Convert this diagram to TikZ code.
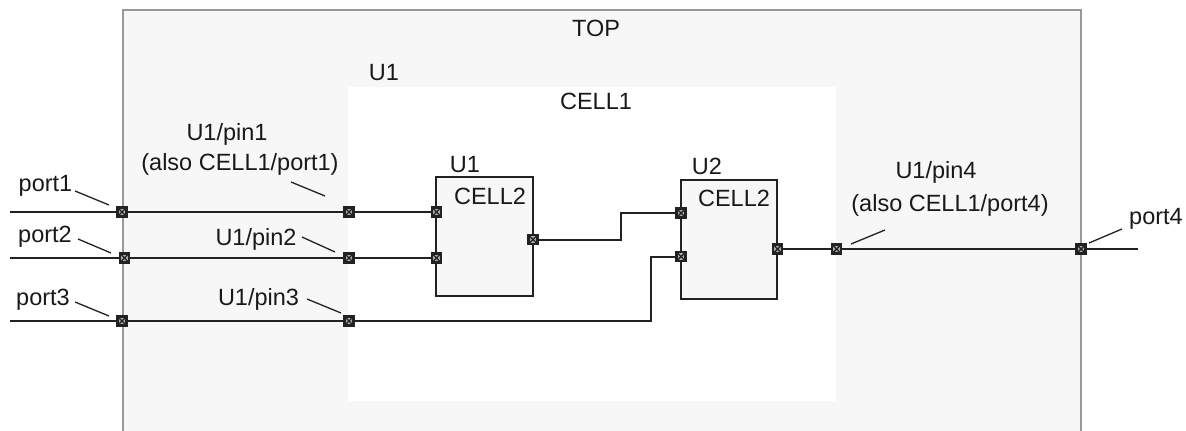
\documentclass[tikz,border=0pt]{standalone}
\usepackage{fontspec}
\setmainfont{Liberation Sans}
\definecolor{panel}{HTML}{F7F7F7}
\definecolor{frame}{HTML}{999999}
\definecolor{ink}{HTML}{222222}
\tikzset{
  wire/.style={draw=ink,line width=2pt},
  leader/.style={draw=ink,line width=1.3pt},
  cellbox/.style={draw=ink,line width=1.6pt,fill=panel,outer sep=0pt},
  lbl/.style={inner sep=0pt,anchor=base,font=\fontsize{23.5pt}{27pt}\selectfont,text=black!90},
  pinmark/.style={draw=ink,line width=2.2pt,fill=panel!70!black,minimum size=9pt,inner sep=0pt,
    path picture={\draw[ink,line width=1.4pt]
      (path picture bounding box.south west)--(path picture bounding box.north east)
      (path picture bounding box.north west)--(path picture bounding box.south east);}}
}
\begin{document}
\begin{tikzpicture}[x=1pt,y=-1pt]
\useasboundingbox (0,0) rectangle (1186,431);
% panels
\fill[panel] (123,10) rectangle (1081,431);
\draw[frame,line width=1.8pt] (123,431) -- (123,10) -- (1081,10) -- (1081,431);
\fill[white] (348,87) rectangle (836,401);
% cells
\node[cellbox,anchor=north west,minimum width=97pt,minimum height=119pt,inner sep=0pt] (c1) at (436,177) {};
\node[cellbox,anchor=north west,minimum width=96pt,minimum height=119pt,inner sep=0pt] (c2) at (681,180) {};
% free ends
\coordinate (w1) at (10,212);
\coordinate (w2) at (10,258);
\coordinate (w3) at (10,321);
\coordinate (w4) at (1138,249);
% pins
\node[pinmark] (p1) at (122,212) {};
\node[pinmark] (p2) at (124.5,258) {};
\node[pinmark] (p3) at (122,321) {};
\node[pinmark] (p4) at (1081,249) {};
\node[pinmark] (a1) at (349,212) {};
\node[pinmark] (a2) at (349,258) {};
\node[pinmark] (a3) at (349,321) {};
\node[pinmark] (a4) at (836.5,249) {};
\node[pinmark] (b1) at (436.5,212) {};
\node[pinmark] (b2) at (436.5,258) {};
\node[pinmark] (b3) at (533,239.5) {};
\node[pinmark] (d1) at (681,213) {};
\node[pinmark] (d2) at (681,256.5) {};
\node[pinmark] (d3) at (777.5,249) {};
% wires
\draw[wire] (w1) -- (p1);
\draw[wire] (p1) -- (a1);
\draw[wire] (a1) -- (b1);
\draw[wire] (w2) -- (p2);
\draw[wire] (p2) -- (a2);
\draw[wire] (a2) -- (b2);
\draw[wire] (w3) -- (p3);
\draw[wire] (p3) -- (a3);
\draw[wire] (a3) -- (651,321) -- (651,256.5) -- (d2);
\draw[wire] (b3) -- (621,239.5) -- (621,213) -- (d1);
\draw[wire] (d3) -- (a4);
\draw[wire] (a4) -- (p4);
\draw[wire] (p4) -- (w4);
% labels
\node[lbl] (tTop) at (596,36) {TOP};
\node[lbl] (tU1o) at (384,80) {U1};
\node[lbl] (tCell1) at (596,109) {CELL1};
\node[lbl] (tU1) at (465,172) {U1};
\node[lbl] (tU2) at (707,174) {U2};
\node[lbl] (tC21) at (490,204) {CELL2};
\node[lbl] (tC22) at (734,206) {CELL2};
\node[lbl] (lp1) at (45.5,191) {port1};
\node[lbl] (lp2) at (45,242) {port2};
\node[lbl] (lp3) at (43,305) {port3};
\node[lbl] (lp4) at (1156,224) {port4};
\node[lbl] (la1) at (227,140) {U1/pin1};
\node[lbl] (la1b) at (240,170) {(also CELL1/port1)};
\node[lbl] (la2) at (256,245) {U1/pin2};
\node[lbl] (la3) at (258.5,305) {U1/pin3};
\node[lbl] (la4) at (936,178) {U1/pin4};
\node[lbl] (la4b) at (950,211) {(also CELL1/port4)};
% leaders
\coordinate (q1a) at (75,191); \coordinate (q1b) at (109,205);
\coordinate (q2a) at (78,239); \coordinate (q2b) at (111,253);
\coordinate (q3a) at (75,302); \coordinate (q3b) at (109,316);
\coordinate (q4a) at (291,182); \coordinate (q4b) at (325,196);
\coordinate (q5a) at (302,237); \coordinate (q5b) at (335,252);
\coordinate (q6a) at (307,299); \coordinate (q6b) at (341,313);
\coordinate (q7a) at (851,244); \coordinate (q7b) at (885,230);
\coordinate (q8a) at (1089,243); \coordinate (q8b) at (1122,229);
\draw[leader] (q1a) -- (q1b);
\draw[leader] (q2a) -- (q2b);
\draw[leader] (q3a) -- (q3b);
\draw[leader] (q4a) -- (q4b);
\draw[leader] (q5a) -- (q5b);
\draw[leader] (q6a) -- (q6b);
\draw[leader] (q7a) -- (q7b);
\draw[leader] (q8a) -- (q8b);
\end{tikzpicture}
\end{document}
